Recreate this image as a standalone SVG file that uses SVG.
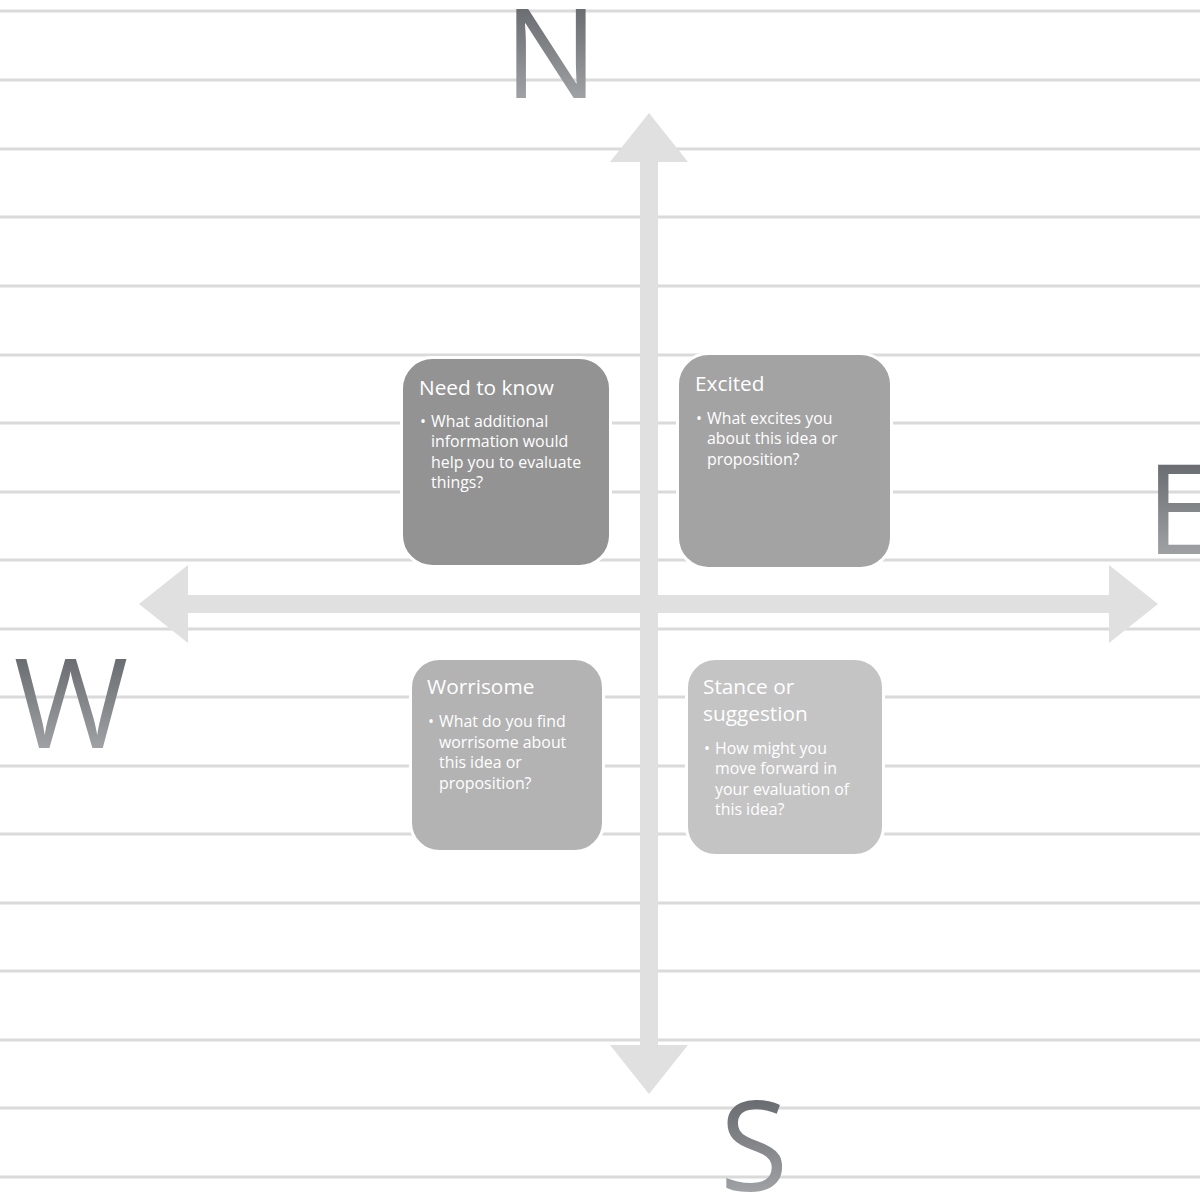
<svg xmlns="http://www.w3.org/2000/svg" width="1200" height="1194" viewBox="0 0 1200 1194">
<defs>
<linearGradient id="lg" x1="0" y1="0" x2="0" y2="1">
<stop offset="0" stop-color="#505358"/>
<stop offset="1" stop-color="#b4b6b8"/>
</linearGradient>
<style>
.rule{stroke:#dadada;stroke-width:3}
.arr{fill:#e0e0e0}
.box{stroke:#ffffff;stroke-width:3}
.t{font-family:"Open Sans","Liberation Sans",sans-serif;fill:#ffffff}
.h{font-size:20.8px}
.b{font-size:15.9px}
.big{font-family:"Open Sans","Liberation Sans",sans-serif;font-size:124px;fill:url(#lg)}
</style>
</defs>
<g id="rules">
<line class="rule" x1="0" y1="11" x2="1200" y2="11"/>
<line class="rule" x1="0" y1="80" x2="1200" y2="80"/>
<line class="rule" x1="0" y1="149" x2="1200" y2="149"/>
<line class="rule" x1="0" y1="217" x2="1200" y2="217"/>
<line class="rule" x1="0" y1="286" x2="1200" y2="286"/>
<line class="rule" x1="0" y1="355" x2="1200" y2="355"/>
<line class="rule" x1="0" y1="423" x2="1200" y2="423"/>
<line class="rule" x1="0" y1="492" x2="1200" y2="492"/>
<line class="rule" x1="0" y1="560" x2="1200" y2="560"/>
<line class="rule" x1="0" y1="629" x2="1200" y2="629"/>
<line class="rule" x1="0" y1="697" x2="1200" y2="697"/>
<line class="rule" x1="0" y1="766" x2="1200" y2="766"/>
<line class="rule" x1="0" y1="834" x2="1200" y2="834"/>
<line class="rule" x1="0" y1="903" x2="1200" y2="903"/>
<line class="rule" x1="0" y1="971" x2="1200" y2="971"/>
<line class="rule" x1="0" y1="1040" x2="1200" y2="1040"/>
<line class="rule" x1="0" y1="1108" x2="1200" y2="1108"/>
<line class="rule" x1="0" y1="1177" x2="1200" y2="1177"/>
</g>
<g id="connectors">
<polygon class="arr" points="649,113 688,162 658,162 658,1045 688,1045 649,1094 610,1045 640,1045 640,162 610,162"/>
<polygon class="arr" points="139,604 188,565 188,595 1109,595 1109,565 1158,604 1109,643 1109,613 188,613 188,643"/>
</g>
<g id="labels">
<text class="big" x="551" y="98" text-anchor="middle">N</text>
<text class="big" x="71" y="748" text-anchor="middle">W</text>
<text class="big" x="1146" y="554">E</text>
<text class="big" x="754" y="1191" text-anchor="middle">S</text>
</g>
<g id="need-to-know">
<rect class="box" x="401.5" y="357.5" width="209" height="209" rx="31" fill="#939393"/>
<text class="t h" x="419" y="395">Need to know</text>
<text class="t b" x="420" y="427">•</text>
<text class="t b" x="431" y="427">What additional</text>
<text class="t b" x="431" y="447">information would</text>
<text class="t b" x="431" y="468">help you to evaluate</text>
<text class="t b" x="431" y="488">things?</text>
</g>
<g id="excited">
<rect class="box" x="677.5" y="353.5" width="214" height="215" rx="31" fill="#a3a3a3"/>
<text class="t h" x="695" y="391">Excited</text>
<text class="t b" x="696" y="424">•</text>
<text class="t b" x="707" y="424">What excites you</text>
<text class="t b" x="707" y="444">about this idea or</text>
<text class="t b" x="707" y="465">proposition?</text>
</g>
<g id="worrisome">
<rect class="box" x="410.5" y="658.5" width="193" height="193" rx="29" fill="#b3b3b3"/>
<text class="t h" x="427" y="694">Worrisome</text>
<text class="t b" x="428" y="727">•</text>
<text class="t b" x="439" y="727">What do you find</text>
<text class="t b" x="439" y="748">worrisome about</text>
<text class="t b" x="439" y="768">this idea or</text>
<text class="t b" x="439" y="789">proposition?</text>
</g>
<g id="stance">
<rect class="box" x="686.5" y="658.5" width="197" height="197" rx="29" fill="#c4c4c4"/>
<text class="t h" x="703" y="694">Stance or</text>
<text class="t h" x="703" y="721">suggestion</text>
<text class="t b" x="704" y="754">•</text>
<text class="t b" x="715" y="754">How might you</text>
<text class="t b" x="715" y="774">move forward in</text>
<text class="t b" x="715" y="795">your evaluation of</text>
<text class="t b" x="715" y="815">this idea?</text>
</g>
</svg>
